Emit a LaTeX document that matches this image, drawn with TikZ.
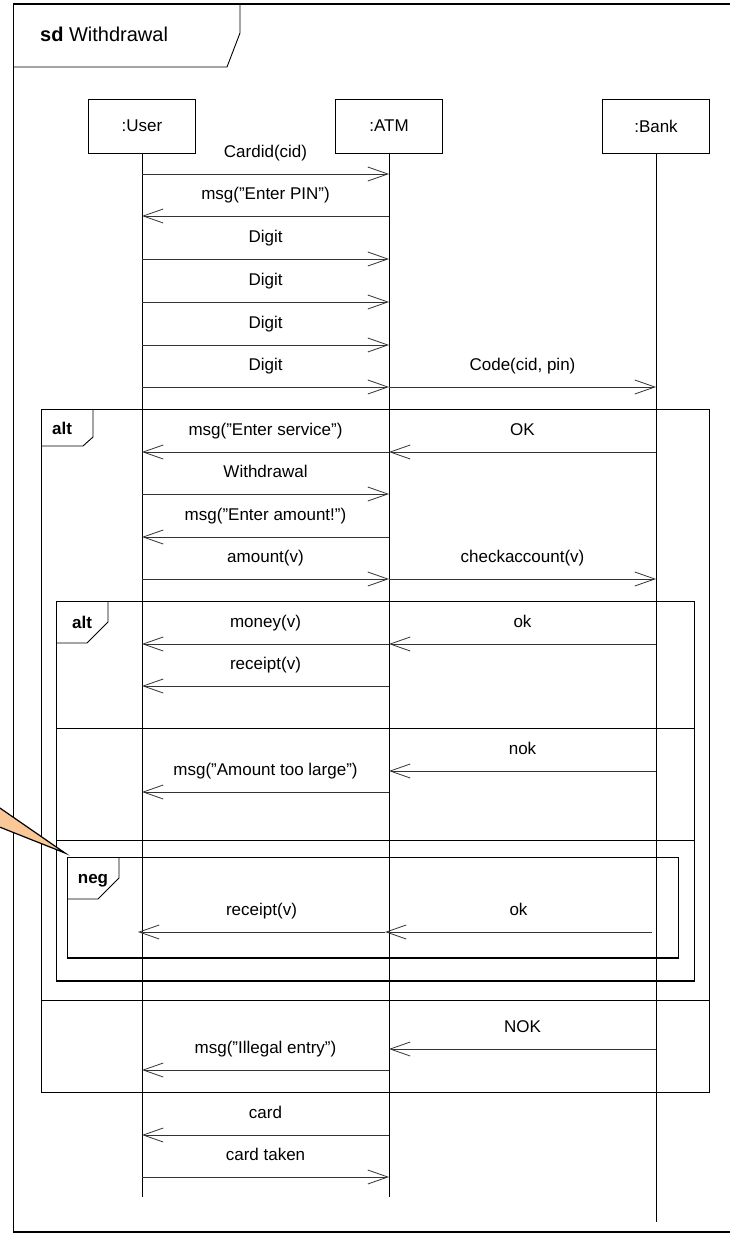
\documentclass[tikz,border=0pt]{standalone}
\usepackage{fontspec}
\setmainfont{Liberation Sans}
\usetikzlibrary{arrows.meta}
\definecolor{notefill}{RGB}{250,200,150}
\newcommand\msgto[4]{\draw[msg] (#1 |- 0,#3) -- node[lbl]{#4} (#2 |- 0,#3);}
\begin{document}
\begin{tikzpicture}[x=1pt,y=-1pt,
  frame/.style={draw=black, line width=0.9pt},
  thickbottom/.style={draw=black, line width=2.2pt},
  head/.style={draw, line width=0.9pt, minimum width=107pt, minimum height=54pt, inner sep=0pt, font=\fontsize{17}{20}\selectfont},
  msg/.style={line width=0.8pt, draw=black!80, -{Straight Barb[length=20pt,width=14pt,line width=0.8pt]}},
  lbl/.style={font=\fontsize{17}{20}\selectfont, inner sep=0pt, text height=12pt, text depth=3.5pt, yshift=21pt},
  life/.style={line width=0.9pt},
  tag/.style={anchor=base, font=\bfseries\fontsize{17}{20}\selectfont}]

\useasboundingbox (0,0) rectangle (730,1233);
\clip (0,0) rectangle (730,1233);
\fill[white] (0,0) rectangle (730,1233);

% outer diagram frame
\draw[line width=1.4pt] (732,4) -- (13.5,4) -- (13.5,1232) -- (732,1232);
\draw[frame] (240,4) -- (240,33) -- (227,67) -- (13.5,67);
\node[anchor=base west, inner sep=0pt, font=\fontsize{20}{24}\selectfont] (title) at (40,42) {\textbf{sd} Withdrawal};

% lifelines
\node[head] (user) at (142,126) {:User};
\node[head] (atm) at (389,126) {:ATM};
\node[head] (bank) at (656,126) {:Bank};
\draw[life] (user.south) -- (user |- 0,1197);
\draw[life] (atm.south) -- (atm |- 0,1197);
\draw[life] (bank.south) -- (bank |- 0,1222);

% messages before alt
\msgto{user}{atm}{174}{Cardid(cid)}
\msgto{atm}{user}{216}{msg(”Enter PIN”)}
\msgto{user}{atm}{259}{Digit}
\msgto{user}{atm}{302}{Digit}
\msgto{user}{atm}{345}{Digit}
\msgto{user}{atm}{387}{Digit}
\msgto{atm}{bank}{387}{Code(cid, pin)}

% outer alt
\draw[frame] (41,409) rectangle (709,1092);
\draw[frame] (93,409) -- (93,437) -- (83,446) -- (41,446);
\node[tag] (alt1) at (62,434) {alt};
\draw[frame] (41,1000) -- (709,1000);

\msgto{atm}{user}{452}{msg(”Enter service”)}
\msgto{bank}{atm}{452}{OK}
\msgto{user}{atm}{494}{Withdrawal}
\msgto{atm}{user}{537}{msg(”Enter amount!”)}
\msgto{user}{atm}{579}{amount(v)}
\msgto{atm}{bank}{579}{checkaccount(v)}

% inner alt
\draw[frame] (56,981) -- (56,601) -- (694,601) -- (694,981);
\draw[thickbottom] (55.5,981) -- (694.5,981);
\draw[frame] (108,601) -- (108,622) -- (87,643) -- (56,643);
\node[tag] (alt2) at (82,628) {alt};
\draw[frame] (56,728) -- (694,728);
\draw[frame] (56,840) -- (694,840);

\msgto{atm}{user}{644}{money(v)}
\msgto{bank}{atm}{644}{ok}
\msgto{atm}{user}{686}{receipt(v)}
\msgto{bank}{atm}{771}{nok}
\msgto{atm}{user}{792}{msg(”Amount too large”)}

% neg
\draw[frame] (67,958) -- (67,857) -- (678,857) -- (678,958);
\draw[thickbottom] (66.5,958) -- (678.5,958);
\draw[frame] (119,857) -- (119,878) -- (98,899) -- (67,899);
\node[tag] (neg) at (93,883) {neg};
\coordinate (negU) at (138,932);
\coordinate (negA) at (385,932);
\coordinate (negB) at (652,932);
\draw[msg] (negA) -- node[lbl]{receipt(v)} (negU);
\draw[msg] (negB) -- node[lbl]{ok} (negA);

% else of outer alt
\msgto{bank}{atm}{1049}{NOK}
\msgto{atm}{user}{1070}{msg(”Illegal entry”)}

% after alt
\msgto{atm}{user}{1135}{card}
\msgto{user}{atm}{1177}{card taken}

% comment pointer
\filldraw[fill=notefill, draw=black, line width=1.2pt] (-3,806) -- (65,853) -- (-3,826) -- cycle;
\end{tikzpicture}
\end{document}
